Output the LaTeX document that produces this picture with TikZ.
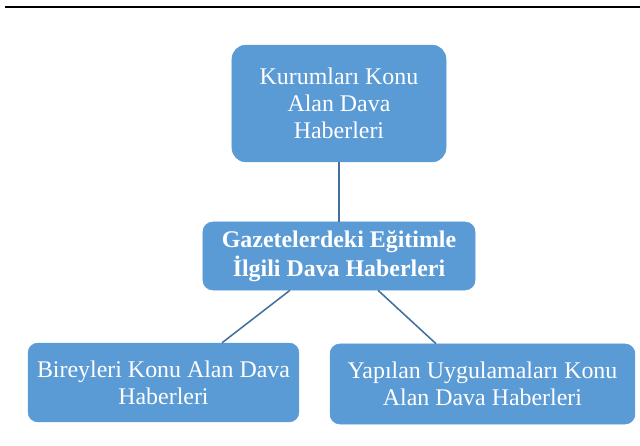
\documentclass[tikz,border=0pt]{standalone}
\usepackage{fontspec}
\setmainfont{Liberation Serif}
\usepackage{xcolor}
\usepackage{tikz}
\usetikzlibrary{positioning,calc}
\definecolor{boxblue}{HTML}{5B9BD5}
\definecolor{linkblue}{HTML}{41719C}

\begin{document}
\begin{tikzpicture}[
    x=0.025cm, y=-0.025cm,
    font=\rmfamily\fontsize{17}{19}\selectfont,
    box/.style={draw=boxblue, fill=boxblue, rounded corners=7pt,
      align=center, text=white, inner sep=2pt, line width=0.4pt},
    link/.style={draw=linkblue, line width=1.1pt}
]
\useasboundingbox (0,0) rectangle (640,446);
\draw[line width=1.5pt] (5,7) -- (640,7);
\node[box, rounded corners=10pt, minimum width=5.35cm, minimum height=2.92cm]
  (kurum) at (339,103.5) {Kurumları Konu\\Alan Dava\\Haberleri};
\node[box, minimum width=6.8cm, minimum height=1.7cm,
      font=\rmfamily\fontsize{17}{20.5}\selectfont\bfseries]
  (gazete) at (339,256) {Gazetelerdeki Eğitimle\\İlgili Dava Haberleri};
\node[box, minimum width=6.77cm, minimum height=1.97cm]
  (birey) at (163.5,382.5) {Bireyleri Konu Alan Dava\\Haberleri};
\node[box, minimum width=7.62cm, minimum height=2cm]
  (uygula) at (482.5,384) {Yapılan Uygulamaları Konu\\Alan Dava Haberleri};
\draw[link] (kurum) -- (gazete);
\draw[link] ($(gazete.south)+(-49,0)$) -- ($(birey.north)+(58.5,0)$);
\draw[link] ($(gazete.south)+(39,0)$) -- ($(uygula.north)+(-46.5,0)$);
\end{tikzpicture}
\end{document}
